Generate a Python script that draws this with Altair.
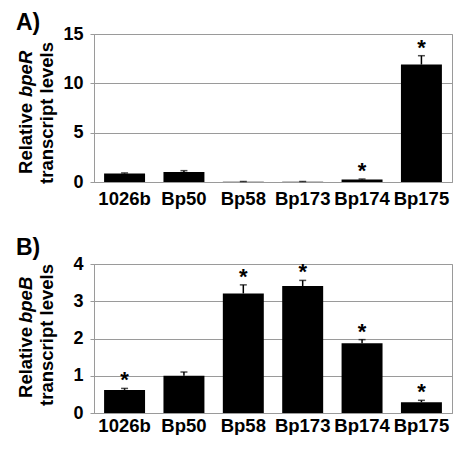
import altair as alt
import pandas as pd

strains = ["1026b", "Bp50", "Bp58", "Bp173", "Bp174", "Bp175"]

bper_mean = [0.86, 1.02, 0.03, 0.03, 0.25, 11.9]
bper_err = [0.06, 0.13, 0.02, 0.02, 0.05, 0.9]
bper_sig = ["", "", "", "", "*", "*"]

bpeb_mean = [0.62, 1.00, 3.21, 3.41, 1.87, 0.29]
bpeb_err = [0.04, 0.10, 0.23, 0.15, 0.10, 0.05]
bpeb_sig = ["*", "", "*", "*", "*", "*"]

FONT = "Liberation Sans"
GRAY = "#9a9a9a"
W = 358


def one_text(txt, x, y, size=18.5, angle=0, align="center", baseline="middle", style="normal"):
    return alt.Chart(alt.Data(values=[{}])).mark_text(
        text=txt, font=FONT, fontSize=size, fontWeight="bold", fontStyle=style,
        color="black", angle=angle, align=align, baseline=baseline,
    ).encode(x=alt.value(x), y=alt.value(y))


def panel(mean, err, sig, ymax, ticks, letter, letter_y, gene, h, r_anchor, g_anchor, line2_y, xpad):
    df = pd.DataFrame({
        "strain": strains,
        "mean": mean,
        "upper": [m + e for m, e in zip(mean, err)],
        "sig": sig,
    })
    x = alt.X("strain:N", sort=strains, title=None,
              scale=alt.Scale(paddingInner=0.31, paddingOuter=0.17),
              axis=alt.Axis(labelAngle=0, labelFont=FONT, labelFontSize=18.5,
                            labelFontWeight="bold", labelColor="black", tickSize=0,
                            domainColor=GRAY, labelPadding=xpad, labelOverlap=False))
    yscale = alt.Scale(domain=[0, ymax], nice=False)
    yaxis = alt.Axis(values=ticks, grid=True, gridColor=GRAY, gridWidth=1,
                     domainColor=GRAY, tickColor=GRAY, tickSize=4,
                     labelFont=FONT, labelFontSize=18, labelFontWeight="bold",
                     labelColor="black", labelPadding=7, labelOverlap=False)
    base = alt.Chart(df)
    bars = base.mark_bar(color="black").encode(
        x=x, y=alt.Y("mean:Q", title=None, scale=yscale, axis=yaxis))
    rule = base.mark_rule(color="black", strokeWidth=1.5).encode(
        x=x, y=alt.Y("mean:Q", title=None, scale=yscale, axis=yaxis), y2="upper:Q")
    cap = base.mark_tick(color="black", size=7, thickness=1.5).encode(
        x=x, y=alt.Y("upper:Q", title=None, scale=yscale, axis=yaxis))
    stars = base.mark_text(font=FONT, fontSize=22, fontWeight="bold", color="black",
                           baseline="alphabetic", dy=-1).encode(
        x=x, y=alt.Y("upper:Q", title=None, scale=yscale, axis=yaxis), text="sig:N")
    lab = one_text(letter, -78, letter_y, size=23, align="left")
    t1 = one_text("Relative", -68, r_anchor, angle=270, align="right")
    t2 = one_text(gene, -68, g_anchor, angle=270, align="left", style="italic")
    t3 = one_text("transcript levels", -47, line2_y, angle=270, align="center")
    return alt.layer(bars, rule, cap, stars, lab, t1, t2, t3).properties(width=W, height=h)


a = panel(bper_mean, bper_err, bper_sig, 15, [0, 5, 10, 15], "A)", -11,
          "bpeR", 148, 69, 63, 79, 7)
b = panel(bpeb_mean, bpeb_err, bpeb_sig, 4, [0, 1, 2, 3, 4], "B)", -16,
          "bpeB", 149, 63, 59, 71, 3)

chart = alt.VConcatChart(vconcat=[a, b], spacing=82, bounds="flush").properties(
    padding={"left": 7, "top": 3, "right": 0, "bottom": 0}
).configure_view(stroke=GRAY, strokeWidth=1)

chart.save("out.html", embed_options={"renderer": "svg", "actions": False})
